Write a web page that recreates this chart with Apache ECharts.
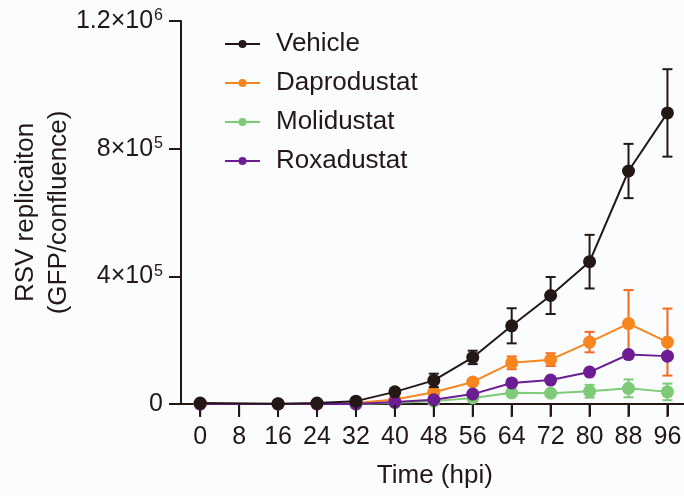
<!DOCTYPE html>
<html>
<head>
<meta charset="utf-8">
<script src="https://cdn.jsdelivr.net/npm/echarts@6/dist/echarts.min.js"></script>
<style>
html,body{margin:0;padding:0;background:#fbfcfe;}
#c{width:684px;height:496px;}
</style>
</head>
<body>
<div id="c"></div>
<script>
// ---- data ----
const timePoints = [0, 16, 24, 32, 40, 48, 56, 64, 72, 80, 88, 96];
const xTicks = [0, 8, 16, 24, 32, 40, 48, 56, 64, 72, 80, 88, 96];
const xMin = 0, xMax = 96, xStep = 8;
const yTicks = [0, 400000, 800000, 1200000];
const yTickLabels = ['0', '4×10^5', '8×10^5', '1.2×10^6'];

const seriesNames = ['Vehicle', 'Daprodustat', 'Molidustat', 'Roxadustat'];
const vehicleMean  = [3000, 1000, 3000, 9000, 38000, 74000, 146000, 245000, 340000, 446000, 730000, 912000];
const vehicleErr   = [0, 0, 0, 2000, 4000, 21000, 21000, 55000, 58000, 84000, 85000, 137000];
const daproMean    = [0, 0, 0, 3000, 14000, 37000, 69000, 129000, 139000, 194000, 252000, 194000];
const daproErr     = [0, 0, 0, 0, 2000, 10000, 5000, 20000, 20000, 32000, 105000, 105000];
const moliMean     = [0, 0, 0, 0, 4000, 9000, 19000, 35000, 34000, 40000, 49000, 38000];
const moliErr      = [0, 0, 0, 0, 0, 2000, 3000, 5000, 5000, 20000, 28000, 26000];
const roxaMean     = [0, 0, 0, 0, 6000, 13500, 31000, 66000, 75000, 100000, 155000, 150000];
const roxaErr      = [0, 0, 0, 0, 0, 2000, 3000, 5000, 5000, 6000, 8000, 8000];

const colors = ['#231815', '#f7861e', '#7dcb76', '#6c1d93'];
const errColors = ['#231815', '#f5681f', '#7dcb76', '#6c1d93'];
const means = [vehicleMean, daproMean, moliMean, roxaMean];
const errs = [vehicleErr, daproErr, moliErr, roxaErr];

const textColor = '#231815';
const FONT = 'Liberation Sans, Arial, sans-serif';

const chart = echarts.init(document.getElementById('c'));

function errSeries(i) {
  const data = timePoints.map((t, k) => [t, means[i][k] - errs[i][k], means[i][k] + errs[i][k]]);
  return {
    type: 'custom',
    name: seriesNames[i] + ' err',
    silent: true,
    clip: false,
    renderItem: function (params, api) {
      const x = api.value(0);
      const lo = api.coord([x, api.value(1)]);
      const hi = api.coord([x, api.value(2)]);
      const hw = 5;
      const st = { stroke: errColors[i], lineWidth: 2 };
      return {
        type: 'group',
        children: [
          { type: 'line', shape: { x1: lo[0], y1: lo[1], x2: hi[0], y2: hi[1] }, style: st },
          { type: 'line', shape: { x1: hi[0] - hw, y1: hi[1], x2: hi[0] + hw, y2: hi[1] }, style: st },
          { type: 'line', shape: { x1: lo[0] - hw, y1: lo[1], x2: lo[0] + hw, y2: lo[1] }, style: st }
        ]
      };
    },
    encode: { x: 0, y: [1, 2] },
    data: data
  };
}

const lineOrder = [2, 1, 3, 0]; // draw order
const series = [];
[0, 1, 2, 3].forEach(i => {
  series.push({
    type: 'line',
    name: seriesNames[i],
    data: timePoints.map((t, k) => [t, means[i][k]]),
    symbol: 'circle',
    symbolSize: 13,
    showAllSymbol: true,
    clip: false,
    z: 10 + lineOrder.indexOf(i) * 2,
    lineStyle: { color: colors[i], width: 2 },
    itemStyle: { color: colors[i] },
    emphasis: { disabled: true }
  });
});
[0, 1, 2, 3].forEach(i => {
  const s = errSeries(i);
  s.z = 9 + lineOrder.indexOf(i) * 2;
  series.push(s);
});
// x-axis tick marks, placed through the x scale, on their own layer
series.push({
  type: 'custom',
  name: 'xticks',
  silent: true,
  clip: false,
  zlevel: 1,
  z: 30,
  renderItem: function (params, api) {
    const p = api.coord([api.value(0), 0]);
    return {
      type: 'line',
      shape: { x1: p[0], y1: p[1] + 1, x2: p[0], y2: p[1] + 13 },
      style: { stroke: textColor, lineWidth: 2 }
    };
  },
  encode: { x: 0, y: 1 },
  data: xTicks.map(t => [t, 0])
});

const option = {
  backgroundColor: '#fbfcfe',
  animation: false,
  color: colors,
  grid: [
    { left: 200.18, right: 16.55, top: 21, bottom: 92, containLabel: false, outerBoundsMode: 'none' },
    { left: 170, right: 0, top: 21, bottom: 92, containLabel: false, outerBoundsMode: 'none' }
  ],
  legend: {
    orient: 'vertical',
    left: 219,
    top: 26,
    itemWidth: 35,
    itemHeight: 10,
    itemGap: 13,
    data: seriesNames,
    textStyle: { fontFamily: FONT, fontSize: 26, color: textColor, padding: [0, 0, 0, 11] }
  },
  xAxis: [{
    type: 'value',
    gridIndex: 0,
    min: xMin,
    max: xMax,
    interval: xStep,
    name: 'Time (hpi)',
    nameLocation: 'middle',
    nameGap: 59,
    nameMoveOverlap: false,
    nameTextStyle: { fontFamily: FONT, fontSize: 26, color: textColor, padding: [0, 0, 0, 2] },
    axisLine: { show: false, onZero: false },
    axisTick: { show: true, length: 12, lineStyle: { color: textColor, width: 2 } },
    axisLabel: { fontFamily: FONT, fontSize: 25, color: textColor, margin: 21 },
    splitLine: { show: false }
  }, {
    type: 'value',
    gridIndex: 1,
    min: 0,
    max: 1,
    axisLine: { show: true, onZero: false, lineStyle: { color: textColor, width: 2 } },
    axisTick: { show: false },
    axisLabel: { show: false },
    splitLine: { show: false }
  }],
  yAxis: [{
    type: 'value',
    gridIndex: 0,
    min: 0,
    max: 1200000,
    interval: 400000,
    offset: 19.18,
    name: 'RSV replicaiton\n(GFP/confluence)',
    nameLocation: 'middle',
    nameRotate: 90,
    nameGap: 106,
    nameMoveOverlap: false,
    nameTextStyle: { fontFamily: FONT, fontSize: 26, color: textColor, lineHeight: 33 },
    axisLine: { show: true, onZero: false, lineStyle: { color: textColor, width: 2 } },
    axisTick: { show: true, length: 12, lineStyle: { color: textColor, width: 2 } },
    axisLabel: {
      margin: 18,
      formatter: function (v) {
        const idx = yTicks.indexOf(v);
        const s = idx >= 0 ? yTickLabels[idx] : String(v);
        const parts = s.split('^');
        if (parts.length === 1) return '{m|' + s + '}';
        return '{m|' + parts[0] + '}{s|' + parts[1] + '}';
      },
      rich: {
        m: { fontFamily: FONT, fontSize: 25, color: textColor, lineHeight: 26 },
        s: { fontFamily: FONT, fontSize: 16, color: textColor, lineHeight: 14, verticalAlign: 'top', padding: [0, 0, 0, 1] }
      }
    },
    splitLine: { show: false }
  }, {
    type: 'value',
    gridIndex: 1,
    show: false,
    min: 0,
    max: 1
  }],
  series: series
};
chart.setOption(option);
</script>
</body>
</html>
